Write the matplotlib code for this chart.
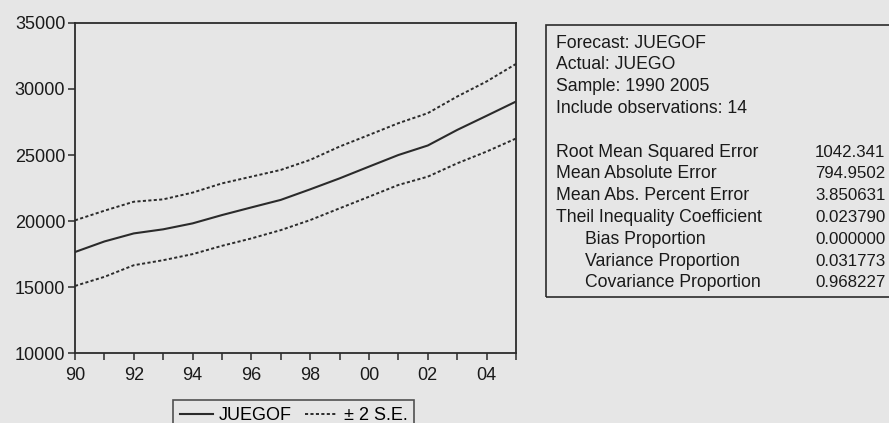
import numpy as np
import matplotlib
matplotlib.use("Agg")
import matplotlib.pyplot as plt
from matplotlib.patches import Rectangle
from matplotlib.ticker import MultipleLocator, FuncFormatter

plt.rcParams['font.family'] = ['Liberation Sans', 'DejaVu Sans']

# forecast series and +/- 2 S.E. band
years = np.arange(1990, 2006)
juegof = [17650, 18450, 19060, 19370, 19820, 20450, 21030, 21600,
          22400, 23230, 24120, 25000, 25720, 26900, 27970, 29050]
upper = [20050, 20780, 21460, 21640, 22150, 22850, 23360, 23870,
         24630, 25640, 26520, 27410, 28170, 29430, 30570, 31900]
lower = [15080, 15770, 16650, 17030, 17490, 18120, 18680, 19310,
         20070, 20960, 21840, 22730, 23360, 24370, 25260, 26250]

# forecast evaluation table
header_lines = ["Forecast: JUEGOF", "Actual: JUEGO", "Sample: 1990 2005",
                "Include observations: 14"]
stat_names = ["Root Mean Squared Error", "Mean Absolute Error",
              "Mean Abs. Percent Error", "Theil Inequality Coefficient",
              "Bias Proportion", "Variance Proportion", "Covariance Proportion"]
stat_values = ["1042.341", "794.9502", "3.850631", "0.023790",
               "0.000000", "0.031773", "0.968227"]
indented = [False, False, False, False, True, True, True]

bg = '#e6e6e6'
ink = '#2b2b2b'
W, H = 889, 423

fig = plt.figure(figsize=(W / 100, H / 100), dpi=100, facecolor=bg)
ax = fig.add_axes([75 / W, 1 - 353 / H, 441 / W, 330 / H], facecolor=bg)

ax.plot(years, juegof, color=ink, lw=1.5, label='JUEGOF')
ax.plot(years, upper, color=ink, lw=1.4, ls=(0, (1.6, 1.2)), label='\u00b1 2 S.E.')
ax.plot(years, lower, color=ink, lw=1.4, ls=(0, (1.6, 1.2)))

ax.set_xlim(1990, 2005)
ax.set_ylim(10000, 35000)
ax.xaxis.set_major_locator(MultipleLocator(2))
ax.xaxis.set_minor_locator(MultipleLocator(1))
ax.xaxis.set_major_formatter(FuncFormatter(lambda v, p: '%02d' % (int(round(v)) % 100)))
ax.yaxis.set_major_locator(MultipleLocator(5000))
ax.tick_params(axis='both', which='both', direction='out', length=5, width=1.1,
               color=ink, labelcolor='#1a1a1a', labelsize=13)
ax.tick_params(axis='x', pad=5)
ax.tick_params(axis='y', pad=2)
for s in ax.spines.values():
    s.set_color(ink)
    s.set_linewidth(1.3)

handles, labels = ax.get_legend_handles_labels()
leg = fig.legend(handles, labels, loc='upper left',
                 bbox_to_anchor=(173 / W, 1 - 400 / H), ncol=2,
                 fontsize=13, frameon=True, fancybox=False,
                 handlelength=1.8, handletextpad=0.35, columnspacing=0.7,
                 borderpad=0.4, borderaxespad=0)
leg.get_frame().set_edgecolor(ink)
leg.get_frame().set_facecolor(bg)
leg.get_frame().set_linewidth(1.2)

# statistics box on the right
fig.patches.append(Rectangle((546 / W, 1 - 297 / H), 400 / W, 272 / H,
                             transform=fig.transFigure, fill=False,
                             edgecolor=ink, lw=1.2))

y0, step = 43, 21.8
fs = 12.7
for i, t in enumerate(header_lines):
    fig.text(556 / W, 1 - (y0 + i * step) / H, t, fontsize=fs,
             color='#1a1a1a', va='center', ha='left')
for j, (name, val, ind) in enumerate(zip(stat_names, stat_values, indented)):
    yy = 1 - (y0 + (j + 5) * step) / H
    fig.text((585 if ind else 556) / W, yy, name, fontsize=fs,
             color='#1a1a1a', va='center', ha='left')
    fig.text(815 / W, yy, val, fontsize=12.2, color='#1a1a1a',
             va='center', ha='left')

fig.savefig('out.png', dpi=100, facecolor=bg)
